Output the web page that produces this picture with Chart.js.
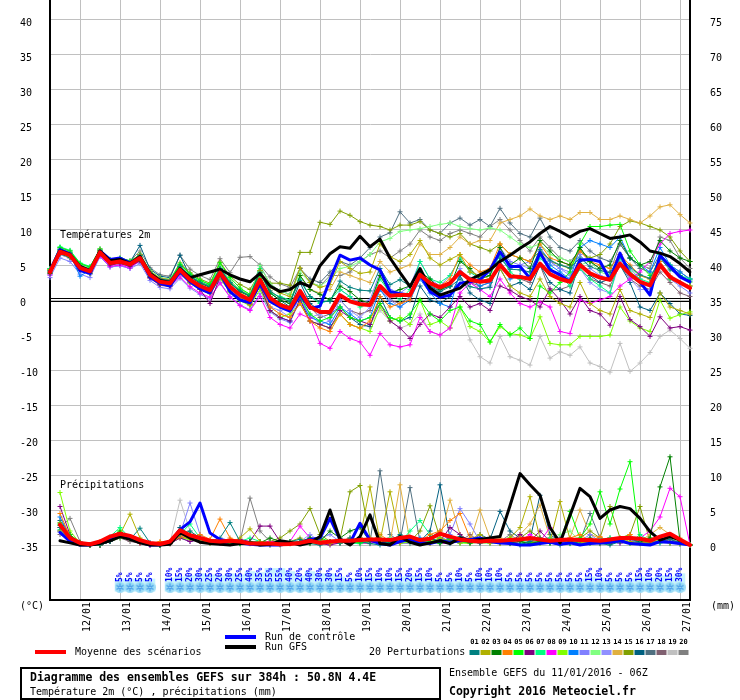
<!DOCTYPE html>
<html>
<head>
<meta charset="utf-8">
<script src="https://cdn.jsdelivr.net/npm/chart.js@4.4.0/dist/chart.umd.min.js"></script>
<style>
  html, body { margin: 0; padding: 0; background: #fff; }
  canvas { display: block; }
</style>
</head>
<body>
<canvas id="gefs" width="740" height="700"></canvas>
<script>
// 65 steps of 6h, from 11/01 06Z to 27/01 06Z
const dayLabels = ["12/01", "13/01", "14/01", "15/01", "16/01", "17/01", "18/01", "19/01",
  "20/01", "21/01", "22/01", "23/01", "24/01", "25/01", "26/01", "27/01"];
const tempTicks = [-35, -30, -25, -20, -15, -10, -5, 0, 5, 10, 15, 20, 25, 30, 35, 40];
const precipTicks = [0, 5, 10, 15, 20, 25, 30, 35, 40, 45, 50, 55, 60, 65, 70, 75];

// snow probability (%) per step
const snowProb = [null, null, null, null, null, null, null, 5, 5, 5, 5, null,
  10, 15, 20, 30, 25, 20, 30, 25, 40, 35, 55, 55, 40, 20, 40, 30, 30, 15, 5, 10, 15, 10, 10, 15,
  20, 15, 10, 5, 5, 10, 5, 10, 10, 10, 5, 5, 5, 5, 5, 5, 5, 5, 15, 10, 5, 5, 5, 15, 10, 20, 15, 30, null];

const meanTemp = [4.0, 6.9, 6.4, 4.6, 4.1, 6.8, 5.3, 5.5, 5.1, 6.0, 3.6, 2.6, 2.4, 4.3, 2.9, 2.0, 1.4,
  3.9, 1.9, 0.7, 0.0, 2.9, 0.3, -0.7, -1.2, 1.3, -1.0, -1.7, -1.7, 0.7, -0.2, -0.6, -0.7, 2.0, 0.6,
  0.7, 0.7, 3.6, 2.4, 1.8, 2.4, 4.0, 2.9, 2.6, 2.8, 5.0, 3.4, 3.3, 3.0, 5.2, 3.7, 3.0, 2.6, 5.0, 3.8,
  3.2, 2.9, 5.2, 3.7, 2.6, 2.1, 5.0, 3.3, 2.5, 1.7];
const meanPrecip = [null, 2.9, 1.0, 0.3, 0.1, 0.5, 1.2, 1.6, 1.3, 0.7, 0.3, 0.15, 0.5, 2.1, 1.4, 1.0,
  0.6, 0.5, 0.6, 0.5, 0.2, 0.2, 0.2, 0.1, 0.15, 0.3, 0.6, 0.3, 0.5, 0.6, 0.6, 0.7, 0.8, 0.8, 0.7, 1.0,
  1.2, 0.7, 0.9, 1.6, 1.2, 0.8, 0.6, 0.5, 0.6, 0.6, 0.7, 0.8, 1.0, 0.8, 0.6, 0.7, 0.8, 0.7, 0.7, 0.6,
  0.8, 1.0, 1.0, 0.9, 0.6, 1.2, 1.6, 0.8, 0.0];

const gfsTemp = [4.0, 7.0, 6.5, 4.8, 4.2, 7.0, 5.6, 5.8, 5.2, 6.2, 3.8, 2.8, 2.5, 4.5, 3.2, 3.6, 4.0,
  4.4, 3.6, 3.0, 2.6, 3.8, 2.0, 1.2, 1.5, 2.5, 1.9, 4.9, 6.6, 7.6, 7.4, 9.1, 7.6, 8.7, 6.0, 3.9, 1.9,
  4.5, 1.7, 0.7, 1.2, 1.7, 2.9, 3.6, 4.3, 5.5, 6.4, 7.4, 8.3, 9.5, 10.5, 9.8, 9.0, 9.8, 10.2, 9.5, 8.8,
  9.0, 9.3, 8.3, 7.0, 6.7, 6.2, 5.2, 4.0];
const gfsPrecip = [null, 0.6, 0.3, 0.0, 0.0, 0.2, 0.6, 1.2, 0.8, 0.3, 0.0, 0.0, 0.1, 1.8, 1.0, 0.4,
  0.2, 0.1, 0.0, 0.2, 0.3, 0.0, 0.1, 0.6, 0.4, 0.0, 0.3, 1.2, 5.0, 0.8, 0.0, 1.2, 4.3, 0.2, 0.0, 1.2,
  0.4, 0.0, 0.3, 0.6, 0.2, 1.0, 0.6, 0.8, 1.0, 1.2, 5.6, 10.2, 8.6, 7.1, 2.5, 0.3, 4.2, 8.1, 6.9, 3.8,
  5.0, 5.5, 5.2, 3.8, 1.9, 0.7, 1.2, 0.7, 0.0];

const controlTemp = [4.2, 7.2, 6.6, 4.2, 3.8, 7.0, 5.8, 6.0, 5.3, 6.1, 3.3, 2.4, 2.0, 4.0, 2.6, 1.6,
  1.0, 3.8, 1.2, 0.0, -0.4, 2.4, -0.2, -1.0, -1.6, 0.8, -1.2, -0.9, 2.9, 6.4, 5.7, 6.0, 5.0, 4.3, 1.2,
  0.9, 0.7, 3.6, 1.2, 0.4, 0.7, 2.4, 2.6, 2.9, 4.3, 6.9, 4.8, 4.8, 3.1, 6.8, 4.3, 3.6, 2.6, 5.7, 5.8,
  5.5, 2.9, 6.7, 3.6, 2.6, 0.7, 6.4, 4.8, 3.3, 2.6];
const controlPrecip = [null, 1.8, 0.5, 0.0, 0.0, 0.3, 0.8, 1.5, 1.0, 0.4, 0.0, 0.0, 0.3, 2.2, 3.3,
  6.0, 1.7, 0.8, 0.5, 0.3, 0.1, 0.0, 0.0, 0.0, 0.2, 0.3, 0.8, 1.0, 3.8, 0.8, 0.3, 3.1, 0.7, 0.2, 0.0,
  0.5, 0.8, 0.3, 0.2, 0.6, 0.4, 0.6, 0.8, 1.0, 0.5, 0.3, 0.2, 0.0, 0.0, 0.2, 0.4, 0.1, 0.3, 0.0, 0.2,
  0.3, 0.4, 0.6, 0.2, 0.1, 0.0, 0.5, 0.4, 0.2, 0.0];

// 20 perturbations, temperature 2m (°C)
const tempP01 = [4.2, 7.2, 6.7, 4.9, 4.4, 7.0, 5.5, 5.7, 5.3, 6.4, 4.0, 3.0, 2.8, 4.8, 3.4, 2.5, 1.9, 4.5, 2.5, 1.3, 0.6, 3.9, 1.3, 0.3, -0.2, 2.8, 0.5, -0.2, -0.2, 2.7, 1.8, 1.4, 1.3, 4.5, 2.2, 2.9, 2.0, 3.9, 2.0, 1.2, 1.9, 3.0, 1.9, 1.6, 1.8, 6.0, 4.4, 4.3, 4.0, 7.2, 5.7, 5.0, 4.6, 6.0, 4.8, 4.2, 3.9, 6.2, 4.7, 3.6, 3.1, 6.0, 4.3, 3.5, 2.7];
const tempP02 = [4.0, 6.7, 6.2, 4.4, 3.9, 6.9, 5.4, 5.6, 5.2, 6.0, 3.6, 2.6, 2.4, 3.9, 2.5, 1.6, 1.0, 3.3, 1.3, 0.1, -0.6, 4.2, 1.8, 1.0, 0.5, 4.6, 2.5, 1.8, 2.2, 5.5, 4.5, 3.8, 4.0, 8.0, 6.2, 5.5, 6.5, 8.5, 6.0, 5.0, 5.8, 6.5, 4.0, 3.5, 3.0, 4.5, 2.0, 1.0, 0.5, 3.0, 0.5, -0.5, -1.0, 2.5, -0.5, -1.5, -2.0, 1.5, -1.5, -2.0, -2.5, 1.0, -1.0, -1.5, -2.0];
const tempP03 = [3.8, 6.6, 6.1, 4.3, 3.8, 6.8, 5.3, 5.5, 5.1, 5.7, 3.3, 2.3, 2.1, 4.7, 3.3, 2.4, 1.8, 4.4, 2.4, 1.2, 0.5, 4.2, 1.0, 0.0, -0.5, 3.5, 1.5, 0.8, 0.0, 2.0, 1.2, 0.0, -0.5, 3.5, 1.0, 1.5, 2.0, 4.0, 3.0, 1.5, 2.0, 5.5, 4.5, 3.0, 3.5, 7.5, 5.0, 6.0, 4.5, 8.5, 7.0, 5.5, 5.0, 7.5, 5.5, 4.5, 5.0, 8.5, 6.0, 5.0, 5.5, 8.5, 7.0, 6.0, 5.5];
const tempP04 = [4.3, 7.1, 6.6, 4.8, 4.3, 7.1, 5.6, 5.8, 5.4, 6.5, 4.1, 3.1, 2.9, 4.1, 2.7, 1.8, 1.2, 3.4, 1.4, 0.2, -0.5, 2.2, -1.0, -2.0, -2.5, -0.5, -3.0, -4.0, -4.5, -2.0, -3.5, -4.0, -3.0, 0.5, -1.0, -0.5, 0.0, 4.0, 2.5, 2.0, 3.0, 6.5, 5.0, 4.0, 4.5, 8.0, 6.5, 6.0, 5.5, 8.0, 6.0, 5.5, 5.0, 7.0, 5.5, 5.0, 4.5, 6.5, 5.0, 3.5, 3.0, 5.5, 3.5, 2.5, 2.0];
const tempP05 = [4.4, 7.5, 7.0, 5.2, 4.7, 7.3, 5.8, 6.0, 5.6, 6.4, 4.0, 3.0, 2.8, 5.1, 3.7, 2.8, 2.2, 5.3, 3.2, 1.7, 0.8, 3.5, 0.5, -0.5, -1.0, 0.5, -2.0, -3.0, -2.5, -1.0, -2.5, -3.0, -2.5, -0.5, -2.5, -3.0, -2.0, 0.0, -2.0, -3.0, -1.5, -1.0, -3.0, -3.5, -6.0, -3.5, -5.0, -4.0, -5.5, 2.0, 1.0, 2.5, 4.0, 8.0, 10.5, 10.5, 10.7, 10.8, 7.0, 5.0, 3.5, 5.0, 3.0, 2.5, 2.0];
const tempP06 = [3.9, 6.9, 6.4, 4.6, 4.1, 6.5, 5.0, 5.2, 4.8, 5.6, 3.2, 2.2, 2.0, 4.0, 2.6, 1.5, -0.5, 3.3, 1.3, 0.1, -0.6, 2.0, -1.5, -2.5, -3.0, 0.0, -3.0, -3.5, -4.0, -1.5, -2.5, -3.0, -3.5, -0.5, -3.0, -4.0, -5.5, -3.5, -2.0, -2.5, -1.0, 0.5, -1.0, -0.5, -1.5, 2.0, 1.4, 0.5, 0.0, -1.0, 1.6, 0.0, -2.0, 0.5, -1.5, -2.0, -3.6, 0.5, -2.8, -3.8, -5.2, -2.4, -4.0, -3.8, -4.3];
const tempP07 = [4.5, 7.6, 7.1, 5.3, 4.8, 7.2, 5.7, 5.9, 5.5, 6.5, 4.1, 3.1, 2.9, 5.1, 3.7, 2.8, 2.2, 4.5, 2.5, 1.3, 0.6, 4.5, 1.0, 0.5, 0.0, 3.0, 0.5, -0.5, 0.0, 1.5, 0.5, -1.0, -0.5, 3.0, 1.0, 0.0, 1.5, 5.5, 3.0, 2.5, 3.5, 6.0, 4.0, 3.0, 3.5, 6.5, 4.0, 3.0, 3.5, 6.0, 4.5, 3.5, 2.0, 4.5, 3.0, 2.0, 1.0, 6.0, 4.0, 3.0, 2.5, 6.5, 5.0, 3.5, 3.0];
const tempP08 = [3.6, 6.7, 6.2, 4.4, 3.9, 6.3, 4.8, 5.0, 4.6, 5.6, 3.2, 2.2, 2.0, 3.3, 1.9, 1.0, 0.4, 2.4, 0.4, -0.8, -1.5, 0.5, -2.5, -3.5, -4.0, -2.0, -2.6, -6.2, -6.9, -4.5, -5.5, -6.0, -7.9, -4.8, -6.4, -6.7, -6.4, -2.5, -4.5, -5.0, -4.0, 1.0, 2.5, 1.5, 0.5, 3.0, 1.0, -0.5, -1.0, -0.3, -1.0, -4.5, -4.8, 0.0, -0.5, 0.0, 0.5, 2.0, 3.0, 4.0, 5.5, 8.0, 9.5, 9.8, 10.0];
const tempP09 = [4.3, 7.0, 6.5, 4.7, 4.2, 7.0, 5.5, 5.7, 5.3, 5.8, 3.4, 2.4, 2.2, 3.8, 2.4, 1.5, 0.9, 3.1, 1.1, -0.1, -0.8, 1.5, -1.5, -2.5, -2.0, -0.5, -3.0, -3.5, -4.0, -2.0, -3.5, -4.0, -4.5, -1.0, -3.0, -2.5, -3.5, 0.0, -3.5, -3.0, -4.0, -1.0, -3.8, -4.5, -6.0, -3.8, -4.8, -5.0, -5.5, -2.4, -6.2, -6.4, -6.4, -5.2, -5.2, -5.2, -5.0, -1.0, -3.0, -4.0, -4.5, 0.0, -2.6, -2.1, -1.7];
const tempP10 = [4.0, 7.1, 6.6, 3.4, 4.3, 6.7, 5.2, 5.4, 5.0, 6.3, 3.9, 2.9, 2.7, 4.5, 3.1, 2.2, 1.6, 3.6, 1.6, 0.4, -0.3, 2.0, -1.5, -2.5, -3.0, 0.0, -2.5, -3.0, -3.5, -1.0, -2.0, -3.0, -2.5, 1.5, -0.5, -1.0, 0.0, 3.0, 1.0, -0.5, -1.0, 4.0, 3.0, 2.0, 2.5, 5.5, 3.0, 3.5, 3.0, 6.5, 5.0, 4.0, 3.0, 7.5, 8.5, 8.0, 7.5, 9.0, 6.0, 5.0, 4.0, 7.5, 5.0, 4.0, 3.0];
const tempP11 = [3.2, 6.0, 5.5, 3.7, 3.2, 6.2, 4.7, 4.9, 4.5, 5.2, 2.8, 1.8, 1.6, 3.1, 1.7, 0.8, 0.2, 2.5, 0.5, -0.7, -1.4, 0.9, -1.7, -2.7, -3.2, 0.0, -2.0, -3.5, -3.0, 1.5, 0.5, -0.5, 0.0, 4.0, 1.5, 1.0, 2.0, 5.5, 3.0, 2.0, 3.5, 6.0, 4.0, 3.0, 4.0, 7.5, 5.5, 5.0, 5.5, 7.5, 5.5, 4.5, 4.0, 6.5, 4.5, 3.5, 3.0, 6.5, 4.5, 3.0, 2.0, 5.0, 3.0, 2.0, 1.0];
const tempP12 = [4.3, 7.3, 6.8, 5.0, 4.5, 7.0, 5.5, 5.7, 5.3, 6.6, 4.2, 3.2, 3.0, 4.8, 3.4, 2.5, 1.9, 4.7, 2.7, 1.5, 0.8, 4.9, 2.3, 1.3, 0.8, 4.0, 2.5, 2.0, 3.0, 4.5, 4.8, 5.5, 6.5, 8.3, 8.8, 9.8, 10.0, 10.2, 10.5, 10.8, 11.0, 10.5, 10.2, 10.0, 10.3, 10.0, 9.0, 8.0, 7.5, 8.0, 6.5, 6.0, 5.5, 5.0, 5.5, 4.0, 3.5, 6.0, 4.5, 3.5, 3.0, 6.0, 4.5, 3.5, 2.5];
const tempP13 = [3.5, 6.5, 6.0, 4.2, 3.7, 6.2, 4.7, 4.9, 4.5, 5.7, 3.3, 2.3, 2.1, 3.8, 2.4, 1.5, 0.9, 3.2, 1.2, 0.0, -0.7, 2.5, -1.0, -1.5, -2.5, 0.5, -2.5, -2.0, -3.0, 0.0, -1.5, -2.5, -1.0, 1.5, 0.0, -1.0, 0.5, 4.0, 2.0, 1.0, 2.5, 4.5, 2.5, 1.5, 2.0, 6.0, 4.5, 5.0, 4.5, 6.5, 5.5, 4.5, 3.5, 4.5, 2.5, 1.5, 1.0, 5.5, 3.0, 1.5, 1.5, 5.0, 3.0, 2.5, 2.0];
const tempP14 = [4.2, 6.9, 6.4, 4.6, 4.1, 7.1, 5.6, 5.8, 5.4, 6.2, 3.8, 2.8, 2.6, 4.3, 2.9, 2.0, 1.4, 4.2, 2.2, 1.0, 0.3, 3.9, 1.3, 0.3, -0.2, 3.5, 1.5, 1.0, 1.5, 4.0, 3.5, 3.0, 2.5, 5.5, 4.0, 4.5, 5.0, 8.0, 6.5, 6.5, 7.5, 9.0, 8.0, 8.5, 8.5, 11.0, 11.5, 12.0, 13.0, 12.0, 11.5, 12.0, 11.5, 12.5, 12.5, 11.5, 11.5, 12.0, 11.5, 11.0, 12.0, 13.3, 13.6, 12.2, 11.0];
const tempP15 = [4.0, 7.1, 6.6, 4.8, 4.3, 6.9, 5.4, 5.6, 5.2, 6.5, 4.1, 3.1, 2.9, 5.3, 3.9, 3.0, 2.4, 5.4, 3.4, 2.2, 1.5, 4.0, 2.4, 2.4, 2.1, 6.8, 6.8, 11.1, 10.8, 12.7, 12.1, 11.2, 10.7, 10.5, 10.0, 10.7, 10.7, 11.2, 10.0, 9.5, 9.0, 9.5, 8.0, 7.5, 7.0, 8.0, 6.5, 6.0, 5.5, 7.0, 5.5, 5.0, 4.5, 7.0, 6.0, 6.5, 8.0, 10.5, 11.3, 11.0, 10.5, 10.0, 9.0, 7.0, 5.5];
const tempP16 = [4.5, 7.3, 6.8, 5.0, 4.5, 7.1, 5.6, 5.8, 5.4, 7.8, 4.4, 3.4, 3.2, 6.4, 3.4, 2.5, 1.9, 4.5, 2.5, 1.3, 0.6, 4.0, 1.0, 0.0, -1.0, 2.5, -0.5, -1.5, -2.0, -1.0, -2.5, -3.5, -3.8, 0.5, -2.5, -3.0, -2.5, 2.0, 0.0, -0.5, 0.5, 3.5, 1.0, 0.0, -0.5, 4.5, 2.0, 2.5, 1.5, 5.0, 2.5, 1.5, 1.0, 5.5, 3.5, 2.5, 3.0, 5.0, 2.5, -1.0, -1.5, 1.0, -0.5, -2.0, -2.2];
const tempP17 = [4.1, 6.9, 6.4, 4.6, 4.1, 7.0, 5.5, 5.7, 5.3, 6.3, 3.9, 2.9, 2.7, 4.9, 3.5, 2.6, 2.0, 4.7, 2.7, 1.5, 0.8, 4.9, 2.3, 1.3, 0.8, 4.5, 3.0, 2.5, 4.0, 5.5, 5.0, 6.0, 7.5, 9.0, 9.6, 12.6, 11.0, 11.5, 10.0, 9.5, 11.0, 11.7, 10.7, 11.5, 10.5, 13.1, 11.0, 9.5, 9.0, 11.7, 9.0, 7.5, 7.0, 8.5, 7.0, 6.0, 5.5, 8.0, 6.0, 4.5, 4.0, 6.5, 5.0, 4.0, 3.0];
const tempP18 = [3.7, 6.5, 6.0, 4.2, 3.7, 6.6, 5.1, 5.3, 4.9, 5.5, 3.1, 2.1, 1.9, 3.9, 2.5, 1.6, 1.0, 3.3, 1.3, 0.1, -0.6, 3.0, 0.5, -0.5, -1.5, 1.0, -1.0, -2.5, -2.0, 0.0, -1.5, -2.0, -1.5, 1.5, 0.0, -0.5, 0.5, 3.5, 2.0, 1.5, 2.0, 4.0, 2.5, 2.0, 2.5, 5.5, 3.5, 3.0, 2.5, 5.0, 1.4, 1.5, 2.0, 4.5, 3.0, 2.5, 2.0, 5.0, 3.0, 2.0, 1.5, 4.0, 2.5, 1.0, 0.5];
const tempP19 = [3.8, 6.8, 6.4, 4.4, 4.1, 6.5, 5.3, 5.3, 5.1, 6.0, 3.4, 2.6, 2.2, 4.0, 2.6, 1.8, 1.0, 3.0, 1.2, 0.0, -0.8, 2.0, -1.0, -2.0, -2.5, -0.5, -3.0, -3.5, -4.0, -2.0, -3.5, -4.0, -3.5, -1.5, -3.0, -4.0, -3.5, -2.0, -4.5, -5.0, -4.0, -1.4, -5.7, -8.1, -9.0, -5.2, -8.1, -8.6, -9.3, -5.2, -8.3, -7.4, -7.9, -6.7, -9.0, -9.5, -10.3, -6.2, -10.2, -9.0, -7.5, -5.2, -4.3, -5.5, -6.9];
const tempP20 = [4.3, 7.5, 7.0, 5.2, 4.7, 7.3, 5.8, 6.0, 5.6, 7.0, 4.6, 3.6, 3.4, 6.4, 4.4, 3.5, 2.9, 5.9, 3.9, 6.1, 6.2, 5.0, 3.3, 2.3, 1.8, 4.5, 2.5, 2.0, 3.5, 3.5, 4.0, 5.5, 6.5, 7.0, 6.0, 7.0, 8.0, 10.0, 9.0, 8.5, 9.5, 10.0, 9.5, 9.0, 10.5, 11.5, 10.0, 8.5, 7.0, 9.0, 7.5, 6.0, 5.5, 7.0, 5.5, 4.5, 4.0, 8.0, 6.0, 5.0, 4.5, 9.0, 8.5, 6.0, 4.5];

// 20 perturbations, 6h precipitation (mm)
const precipP01 = [null, 2.5, 1.0, 0.2, 0, 0, 0.5, 1.2, 0.8, 2.4, 0.3, 0, 0.3, 1.5, 2.0, 1.0, 0.5, 1.0, 3.2, 0.5, 0.3, 0.2, 0, 0.3, 0.5, 0.8, 0.2, 0, 0.5, 0.3, 1.0, 0.5, 0.2, 0, 0.5, 1.5, 0.8, 0.3, 1.0, 0.5, 0.2, 1.2, 0.5, 0.3, 0.8, 0.5, 0.2, 0, 0.5, 1.0, 0.3, 0, 0.2, 0.5, 0.8, 0.2, 0, 0.5, 1.0, 0.3, 0.2, 0.5, 0.8, 0.3, 0];
const precipP02 = [null, 2.0, 0.8, 0.3, 0, 0, 0.8, 1.5, 4.4, 1.0, 0.2, 0, 0.2, 1.5, 1.0, 0.5, 0.3, 0.5, 0.3, 1.0, 2.3, 0.5, 0.2, 0, 0.5, 1.0, 0.3, 0.5, 0.2, 0.5, 0.8, 1.0, 8.3, 0.5, 7.6, 1.0, 0.5, 0.5, 0.2, 1.0, 0.5, 0.3, 0.8, 1.5, 0.5, 0.2, 1.0, 2.5, 6.9, 1.0, 0.5, 6.2, 0.8, 0.3, 0.5, 0.2, 0.5, 1.0, 0.5, 0.2, 0.3, 0.5, 0.3, 0.2, 0];
const precipP03 = [null, 2.8, 1.2, 0.3, 0, 0, 0.5, 1.8, 1.2, 0.5, 0.2, 0, 0.3, 2.0, 1.5, 1.0, 0.5, 0.5, 0.3, 0.2, 0.5, 0.3, 1.0, 0.5, 0.2, 0.5, 1.0, 0.5, 2.0, 1.0, 2.0, 2.5, 0.5, 0.5, 0.3, 1.0, 0.5, 0.5, 1.0, 0.3, 0.5, 0.8, 0.3, 0.5, 1.0, 0.5, 0.3, 0.5, 0.2, 0.5, 0.3, 0.8, 0.5, 0.3, 1.0, 0.5, 0.3, 0.5, 0.3, 0.5, 1.0, 8.3, 12.6, 0.5, 0];
const precipP04 = [null, 4.5, 1.2, 0.2, 0, 0.5, 0.8, 1.5, 0.8, 0.3, 0.2, 0.5, 0.2, 1.2, 1.0, 1.5, 0.8, 3.7, 1.0, 0.5, 0.3, 0.2, 0, 0.5, 0.3, 0.5, 0.3, 0.8, 0.3, 0.5, 0.3, 1.0, 0.5, 1.5, 0.5, 0.3, 1.0, 0.5, 1.5, 2.0, 3.5, 4.5, 1.0, 0.5, 0.3, 0.5, 0.3, 1.0, 0.5, 0.3, 0.5, 0.8, 1.0, 1.5, 0.5, 1.2, 0.3, 0.5, 1.5, 0.3, 0.5, 1.0, 0.5, 0.3, 0];
const precipP05 = [null, 3.0, 1.5, 0.3, 0, 0.3, 1.0, 2.0, 1.0, 0.5, 0.2, 0, 0.5, 2.0, 1.5, 0.8, 0.3, 0.5, 0.3, 0.2, 0.3, 0.5, 0.3, 0.2, 0.5, 0.3, 0.5, 1.0, 0.5, 0.3, 0.5, 0.3, 0.5, 0.8, 0.3, 1.0, 0.5, 0.3, 0.5, 0.2, 0.8, 0.5, 0.3, 0.5, 0.8, 0.3, 1.0, 0.5, 0.3, 0.5, 0.3, 0.5, 4.8, 1.0, 3.0, 7.6, 3.0, 8.0, 11.9, 0.5, 0.3, 0.5, 1.5, 0.5, 0];
const precipP06 = [null, 5.5, 1.5, 0.3, 0, 0, 0.5, 1.2, 0.8, 0.3, 0, 0, 0.2, 1.0, 0.5, 0.8, 0.3, 0.3, 0.5, 0.8, 0.5, 2.7, 2.7, 0.5, 0.2, 0.3, 0.5, 0.2, 0, 0.3, 0.5, 1.0, 0.5, 0.5, 0.2, 0.5, 1.0, 0.5, 0.3, 0.5, 2.5, 1.5, 0.5, 0.3, 1.0, 0.5, 0.3, 1.5, 0.5, 2.0, 0.5, 0.3, 0.8, 0.5, 0.3, 0.5, 0.2, 0.5, 1.0, 0.5, 0.3, 0.5, 0.8, 0.3, 0];
const precipP07 = [null, 2.2, 1.0, 0.2, 0, 0.2, 1.2, 2.5, 1.0, 0.5, 0.2, 0, 0.3, 1.5, 3.0, 1.0, 0.5, 0.5, 0.3, 0.5, 1.0, 0.5, 0.3, 0.2, 0.5, 0.3, 1.0, 0.5, 0.3, 0.5, 0.3, 0.2, 0.5, 1.0, 0.5, 0.3, 2.0, 3.5, 1.5, 1.0, 0.5, 0.3, 0.5, 1.0, 0.3, 0.5, 0.3, 0.2, 0.5, 0.3, 1.0, 0.5, 0.3, 0.5, 0.3, 0.8, 1.0, 0.5, 0.3, 1.5, 0.5, 0.3, 0.5, 0.2, 0];
const precipP08 = [null, 2.5, 1.0, 0.2, 0, 0, 0.5, 1.5, 1.0, 0.3, 0, 0, 0.2, 1.5, 1.0, 0.5, 0.3, 0.3, 0.2, 0.5, 0.3, 0.2, 0.5, 0.3, 0.5, 2.7, 1.0, 0.3, 0.2, 0.3, 0.5, 0.2, 0.3, 0.5, 0.3, 0.8, 0.5, 0.3, 0.5, 0.2, 0.3, 0.5, 0.3, 1.0, 0.5, 0.3, 0.2, 0.5, 1.5, 0.5, 2.5, 0.5, 0.3, 0.3, 0.5, 0.3, 0.5, 0.3, 0.5, 1.0, 2.0, 4.0, 8.1, 6.9, 0];
const precipP09 = [null, 7.5, 2.0, 0.3, 0, 0, 0.5, 1.0, 0.8, 0.3, 0.2, 0, 0.3, 1.0, 0.8, 0.5, 0.3, 0.5, 0.3, 0.5, 0.2, 0.3, 0.2, 0.5, 0.3, 0.5, 0.2, 0.3, 0.5, 0.3, 0.5, 0.3, 0.2, 0.5, 0.3, 0.2, 0.5, 0.3, 0.5, 1.0, 0.5, 0.3, 0.2, 0.5, 0.3, 0.5, 0.3, 0.2, 0.3, 0.3, 0.5, 0.3, 0.2, 0.5, 0.3, 0.5, 0.3, 0.5, 0.3, 0.2, 1.0, 0.5, 0.3, 0.2, 0];
const precipP10 = [null, 4.0, 1.2, 0.3, 0, 0, 0.8, 1.5, 1.0, 0.5, 0.3, 0, 0.3, 2.0, 1.5, 1.0, 0.5, 0.5, 0.3, 0.2, 0.5, 0.3, 0.2, 0.5, 0.3, 0.5, 0.8, 0.3, 0.2, 0.5, 0.3, 0.8, 0.5, 0.3, 0.5, 1.0, 0.5, 1.0, 0.5, 0.3, 0.8, 1.0, 0.8, 0.5, 0.3, 0.5, 0.3, 0.2, 0.5, 0.3, 0.5, 0.2, 0.3, 0.5, 0.3, 1.0, 0.5, 0.3, 0.5, 0.8, 0.3, 0.5, 0.3, 0.2, 0];
const precipP11 = [null, 2.0, 1.0, 0.2, 0, 0, 0.5, 1.2, 0.8, 0.3, 0.2, 0, 0.2, 1.5, 6.0, 1.5, 0.5, 0.5, 0.3, 0.5, 0.3, 0.5, 0.3, 0.2, 0.5, 0.3, 0.5, 1.0, 1.5, 0.5, 0.3, 0.8, 0.5, 0.3, 0.5, 0.3, 1.0, 0.5, 0.3, 0.5, 1.5, 5.2, 3.0, 0.5, 0.3, 0.5, 0.3, 0.8, 0.5, 0.3, 0.5, 1.0, 0.3, 0.5, 1.5, 0.5, 0.3, 0.5, 0.3, 0.5, 0.8, 0.3, 0.5, 0.2, 0];
const precipP12 = [null, 3.0, 1.2, 0.2, 0, 0.2, 1.0, 2.0, 1.0, 0.5, 0.2, 0, 0.2, 1.8, 1.5, 0.8, 0.3, 0.5, 0.3, 0.2, 0.3, 0.2, 0.3, 0.5, 0.2, 0.3, 0.2, 0.5, 0.3, 0.5, 0.3, 0.2, 0.3, 0.5, 1.0, 0.5, 0.3, 0.5, 0.3, 0.8, 0.5, 0.3, 0.5, 0.3, 0.2, 0.5, 0.3, 0.5, 1.0, 0.5, 0.3, 1.5, 2.0, 0.5, 0.3, 0.5, 1.0, 0.5, 0.8, 0.5, 0.3, 0.5, 1.0, 0.3, 0];
const precipP13 = [null, 1.8, 0.8, 0.2, 0, 0, 0.5, 1.0, 0.8, 0.3, 0, 0, 0.2, 1.0, 0.5, 0.8, 0.3, 0.3, 0.2, 0.5, 0.3, 0.5, 0.3, 0.2, 0.3, 0.5, 1.5, 0.5, 0.3, 0.3, 0.5, 0.3, 0.2, 0.3, 0.5, 0.2, 0.3, 0.5, 0.3, 0.2, 0.5, 0.5, 0.3, 0.5, 0.3, 0.3, 0.5, 0.2, 0.3, 0.5, 0.3, 0.2, 0.5, 0.3, 0.5, 0.3, 0.2, 0.5, 0.3, 0.2, 0.5, 0.3, 0.2, 0.1, 0];
const precipP14 = [null, 2.5, 1.0, 0.3, 0, 0, 0.8, 1.2, 1.0, 0.3, 0.2, 0, 0.3, 1.5, 1.0, 0.8, 0.5, 0.3, 0.5, 0.3, 0.2, 0.5, 0.3, 0.2, 0.5, 0.3, 0.5, 0.3, 0.5, 0.5, 1.0, 0.5, 1.0, 0.5, 0.3, 8.6, 0.5, 0.3, 0.5, 1.0, 6.4, 1.5, 0.5, 5.0, 1.0, 1.0, 0.5, 1.5, 3.0, 5.7, 1.0, 0.5, 1.0, 5.0, 1.5, 1.0, 0.5, 0.3, 1.0, 0.5, 1.5, 2.5, 1.5, 1.0, 0];
const precipP15 = [null, 3.2, 1.2, 0.3, 0, 0, 0.8, 1.5, 1.2, 0.5, 0.2, 0, 0.3, 1.5, 1.2, 0.8, 0.3, 0.5, 0.3, 0.2, 0.5, 0.3, 0.5, 1.0, 2.0, 3.0, 5.2, 1.5, 0.5, 0.8, 7.6, 8.5, 1.0, 0.5, 0.3, 1.0, 0.5, 2.0, 5.6, 1.0, 0.5, 0.3, 0.5, 1.0, 0.5, 0.3, 0.5, 1.0, 2.0, 1.0, 0.5, 0.3, 0.5, 1.0, 2.0, 1.0, 5.5, 1.0, 1.5, 5.5, 0.5, 0.5, 0.3, 0.2, 0];
const precipP16 = [null, 3.5, 1.5, 0.3, 0, 0, 0.5, 1.2, 1.0, 0.5, 0.2, 0.3, 0.5, 2.5, 1.5, 1.0, 0.3, 0.5, 0.8, 0.3, 0.2, 0.3, 0.2, 0.5, 0.3, 0.5, 0.3, 0.2, 0.5, 0.3, 0.5, 0.3, 0.5, 0.5, 1.0, 0.5, 0.3, 0.5, 2.0, 8.6, 1.0, 0.5, 0.3, 1.5, 0.8, 4.8, 2.0, 1.0, 0.8, 7.1, 1.5, 0.5, 0.3, 0.5, 0.3, 0.5, 1.0, 0.5, 0.3, 0.5, 0.3, 0.5, 0.3, 0.2, 0];
const precipP17 = [null, 2.0, 1.0, 0.2, 0, 0, 0.5, 1.5, 1.0, 0.3, 0.2, 0, 0.2, 1.5, 1.0, 0.8, 0.5, 0.3, 0.5, 0.2, 0.3, 0.5, 0.3, 0.2, 0.3, 0.5, 0.3, 0.2, 0.3, 0.5, 1.0, 0.5, 0.3, 10.6, 1.5, 0.5, 8.2, 0.5, 1.0, 2.0, 0.5, 1.0, 0.5, 0.3, 0.5, 0.3, 0.5, 1.0, 0.5, 0.5, 1.0, 0.5, 0.3, 0.5, 4.5, 1.0, 0.5, 0.3, 0.5, 0.3, 0.5, 0.5, 0.3, 0.2, 0];
const precipP18 = [null, 1.5, 0.8, 0.2, 0, 0, 0.5, 1.0, 0.5, 0.3, 0, 0, 0.2, 1.2, 0.8, 0.5, 0.3, 0.3, 0.2, 0.5, 0.3, 0.5, 0.3, 0.2, 0.3, 0.3, 0.5, 0.8, 0.3, 0.5, 0.3, 0.2, 0.5, 0.3, 0.5, 0.3, 0.2, 0.5, 0.3, 0.5, 1.0, 0.5, 1.5, 0.5, 0.3, 0.3, 0.5, 0.2, 0.5, 0.5, 0.3, 0.5, 0.3, 0.5, 0.3, 0.2, 0.5, 0.3, 0.5, 0.8, 0.3, 0.5, 0.3, 0.2, 0];
const precipP19 = [null, 2.0, 1.0, 0.3, 0, 0, 0.5, 1.5, 1.0, 0.5, 0.2, 0, 0.3, 6.4, 2.0, 1.0, 0.5, 0.5, 0.3, 0.2, 0.3, 0.3, 0.2, 0.5, 0.3, 0.5, 0.3, 0.5, 0.2, 0.3, 0.5, 0.3, 0.5, 0.5, 0.3, 0.2, 0.5, 0.3, 0.5, 0.3, 0.2, 0.5, 0.3, 0.2, 0.5, 0.3, 0.2, 0.5, 0.3, 0.5, 0.3, 0.2, 0.3, 0.2, 0.3, 0.5, 0.2, 0.3, 0.2, 0.5, 0.3, 0.2, 0.3, 0.1, 0];
const precipP20 = [null, 2.5, 3.8, 0.5, 0, 0.2, 1.0, 2.0, 1.0, 0.5, 0.2, 0, 0.3, 2.5, 1.5, 1.0, 0.5, 0.5, 0.3, 0.5, 6.7, 2.0, 0.5, 0.3, 0.2, 0.5, 0.3, 0.5, 0.3, 0.5, 0.3, 1.0, 0.5, 0.3, 0.5, 0.3, 1.0, 0.5, 0.3, 0.5, 1.0, 0.5, 0.3, 0.5, 0.3, 0.5, 1.5, 0.5, 0.3, 0.5, 0.3, 1.0, 0.5, 0.3, 0.5, 0.3, 0.5, 0.5, 0.3, 0.2, 0.5, 0.3, 0.5, 0.2, 0];

const memberColors = ["#008080", "#b0b000", "#008000", "#ff8000", "#00ff00", "#800080", "#00ff80",
  "#ff00ff", "#80ff00", "#0080ff", "#8080ff", "#80ff80", "#9090ff", "#e0b040", "#80a000", "#006080",
  "#507080", "#806070", "#c0c0c0", "#808080"];

const memberTemps = [tempP01, tempP02, tempP03, tempP04, tempP05, tempP06, tempP07, tempP08, tempP09, tempP10,
  tempP11, tempP12, tempP13, tempP14, tempP15, tempP16, tempP17, tempP18, tempP19, tempP20];
const memberPrecips = [precipP01, precipP02, precipP03, precipP04, precipP05, precipP06, precipP07, precipP08,
  precipP09, precipP10, precipP11, precipP12, precipP13, precipP14, precipP15, precipP16, precipP17,
  precipP18, precipP19, precipP20];

const MONO = '"DejaVu Sans Mono", monospace';
Chart.defaults.font.family = MONO;
Chart.defaults.font.size = 10;
Chart.defaults.color = "#000";

const xLabels = snowProb.map((_, i) => (i % 4 === 3 ? dayLabels[(i - 3) / 4] : ""));

function makeFlake() {
  const c = document.createElement("canvas");
  c.width = 11;
  c.height = 11;
  const g = c.getContext("2d");
  g.fillStyle = "#9cdcf6";
  g.beginPath();
  g.arc(5.5, 5.5, 5.5, 0, Math.PI * 2);
  g.fill();
  g.strokeStyle = "#3f9ae8";
  g.lineWidth = 1.2;
  for (let k = 0; k < 3; k++) {
    const a = Math.PI / 2 + (k * Math.PI) / 3;
    g.beginPath();
    g.moveTo(5.5 + 4 * Math.cos(a), 5.5 + 4 * Math.sin(a));
    g.lineTo(5.5 - 4 * Math.cos(a), 5.5 - 4 * Math.sin(a));
    g.stroke();
  }
  g.fillStyle = "#ffffff";
  g.fillRect(5, 5, 1, 1);
  return c;
}

function memberLine(values, color, axis) {
  return {
    type: "line",
    data: values,
    yAxisID: axis,
    borderColor: color,
    borderWidth: 1,
    pointStyle: "cross",
    pointRadius: 2.5,
    pointBorderColor: color,
    pointBorderWidth: 1,
    order: 3,
  };
}

function mainLine(values, color, width, axis, order) {
  return {
    type: "line",
    data: values,
    yAxisID: axis,
    borderColor: color,
    borderWidth: width,
    borderJoinStyle: "round",
    borderCapStyle: "round",
    pointRadius: 0,
    order: order,
  };
}

const datasets = [
  mainLine(meanTemp, "#ff0000", 4, "y", 0),
  mainLine(meanPrecip, "#ff0000", 4, "y2", 0),
  mainLine(gfsTemp, "#000000", 3, "y", 1),
  mainLine(gfsPrecip, "#000000", 3, "y2", 1),
  mainLine(controlTemp, "#0000ff", 3, "y", 2),
  mainLine(controlPrecip, "#0000ff", 3, "y2", 2),
];
memberTemps.forEach((vals, k) => {
  datasets.push(memberLine(vals, memberColors[k], "y"));
  datasets.push(memberLine(memberPrecips[k], memberColors[k], "y2"));
});
// snow indicator row under the precipitation curves
datasets.push({
  type: "line",
  data: snowProb.map((p) => (p == null ? null : -41.05)),
  yAxisID: "y",
  showLine: false,
  pointStyle: makeFlake(),
  pointRadius: 5,
  order: 8,
});
datasets.push({
  type: "bar",
  data: snowProb.map((p) => (p == null ? null : [-41.6, -40.0 + p * 0.03])),
  yAxisID: "y",
  backgroundColor: "#c8f2fd",
  borderWidth: 0,
  barPercentage: 1,
  categoryPercentage: 1,
  order: 9,
});

const decor = {
  id: "decor",
  beforeDatasetsDraw(chart) {
    const { ctx, chartArea: a, scales } = chart;
    const y0 = Math.round(scales.y.getPixelForValue(0));
    ctx.save();
    ctx.strokeStyle = "#000";
    ctx.lineWidth = 1;
    [y0 - 1.5, y0 + 1.5].forEach((py) => {
      ctx.beginPath();
      ctx.moveTo(a.left, py);
      ctx.lineTo(a.right, py);
      ctx.stroke();
    });
    ctx.restore();
  },
  afterDatasetsDraw(chart) {
    const { ctx, scales } = chart;
    ctx.save();
    ctx.fillStyle = "#0000ff";
    ctx.font = "bold 8px " + MONO;
    ctx.textAlign = "left";
    ctx.textBaseline = "middle";
    const base = scales.y.getPixelForValue(-40.3);
    snowProb.forEach((p, i) => {
      if (p == null) return;
      ctx.save();
      ctx.translate(scales.x.getPixelForValue(i) - 0.5, base);
      ctx.rotate(-Math.PI / 2);
      ctx.fillText(p + "%", 0, 0);
      ctx.restore();
    });
    ctx.fillStyle = "#000";
    ctx.font = "10px " + MONO;
    ctx.fillText("Températures 2m", 60, 235);
    ctx.fillText("Précipitations", 60, 485);
    ctx.restore();
  },
  afterDraw(chart) {
    const { ctx, scales } = chart;
    ctx.save();
    ctx.fillStyle = "#000";
    ctx.textBaseline = "middle";
    ctx.textAlign = "left";
    ctx.font = "10px " + MONO;
    // axis tick labels (left: °C, right: mm)
    tempTicks.forEach((v) => ctx.fillText(String(v), 20, scales.y.getPixelForValue(v) + 3));
    precipTicks.forEach((v) => ctx.fillText(String(v), 710, scales.y2.getPixelForValue(v) + 3));
    ctx.fillText("(°C)", 20, 606);
    ctx.fillText("(mm)", 711, 606);

    // legend
    ctx.fillStyle = "#ff0000";
    ctx.fillRect(35, 650, 31, 4);
    ctx.fillStyle = "#0000ff";
    ctx.fillRect(225, 635, 31, 4);
    ctx.fillStyle = "#000000";
    ctx.fillRect(225, 645, 31, 4);
    ctx.fillText("Moyenne des scénarios", 75, 652);
    ctx.fillText("Run de contrôle", 265, 637);
    ctx.fillText("Run GFS", 265, 647);
    ctx.fillText("20 Perturbations", 369, 652);

    ctx.textAlign = "center";
    ctx.font = "bold 7px " + MONO;
    memberColors.forEach((c, k) => {
      const x = 469.5 + k * 11;
      ctx.fillStyle = c;
      ctx.fillRect(x, 650, 10, 5);
      ctx.fillStyle = "#000";
      ctx.fillText(String(k + 1).padStart(2, "0"), x + 5, 642);
    });

    // title box
    ctx.strokeStyle = "#000";
    ctx.lineWidth = 2;
    ctx.strokeRect(21, 668, 419, 31);
    ctx.textAlign = "left";
    ctx.font = "bold 11.5px " + MONO;
    ctx.fillText("Diagramme des ensembles GEFS sur 384h : 50.8N 4.4E", 30, 678);
    ctx.fillText("Copyright 2016 Meteociel.fr", 449, 692);
    ctx.font = "10px " + MONO;
    ctx.fillText("Température 2m (°C) , précipitations (mm)", 30, 692);
    ctx.fillText("Ensemble GEFS du 11/01/2016 - 06Z", 449, 673);
    ctx.restore();
  },
};

new Chart(document.getElementById("gefs"), {
  type: "line",
  data: { labels: xLabels, datasets: datasets },
  options: {
    responsive: false,
    animation: false,
    events: [],
    layout: { padding: 0, autoPadding: false },
    elements: { line: { tension: 0 } },
    plugins: { legend: { display: false }, tooltip: { enabled: false } },
    scales: {
      x: {
        offset: false,
        grid: {
          offset: false,
          drawTicks: false,
          lineWidth: 1,
          color: (c) => (c.index % 4 === 3 ? "#c0c0c0" : "rgba(0,0,0,0)"),
        },
        border: { color: "#000", width: 2 },
        ticks: { autoSkip: false, maxRotation: 90, minRotation: 90, labelOffset: 7, padding: 2 },
        afterFit(scale) {
          scale.height = 100;
          scale.paddingLeft = 0;
          scale.paddingRight = 0;
        },
      },
      y: {
        position: "left",
        min: -300 / 7,
        max: 300 / 7,
        grid: { color: "#c0c0c0", drawTicks: false },
        border: { color: "#000", width: 2 },
        ticks: { display: false },
        afterBuildTicks(scale) {
          scale.ticks = tempTicks.map((v) => ({ value: v }));
        },
        afterFit(scale) {
          scale.width = 50;
        },
      },
      y2: {
        position: "right",
        min: 35 - 300 / 7,
        max: 35 + 300 / 7,
        grid: { display: false, drawTicks: false },
        border: { color: "#000", width: 2 },
        ticks: { display: false },
        afterBuildTicks(scale) {
          scale.ticks = precipTicks.map((v) => ({ value: v }));
        },
        afterFit(scale) {
          scale.width = 50;
        },
      },
    },
  },
  plugins: [decor],
});
</script>
</body>
</html>
